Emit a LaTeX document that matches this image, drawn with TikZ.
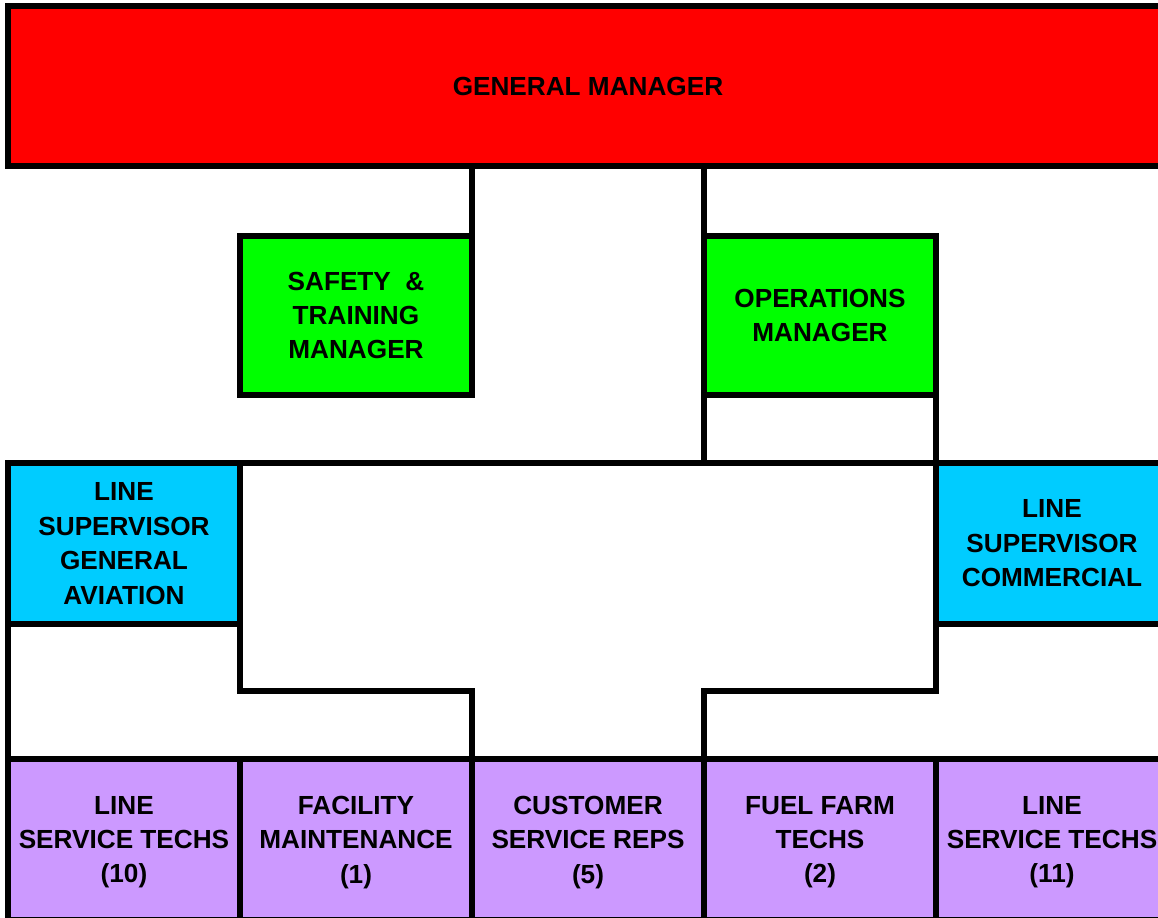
\documentclass[tikz,border=0pt]{standalone}
\usepackage{fontspec}
\setmainfont{Liberation Sans}
\definecolor{gmred}{HTML}{FF0000}
\definecolor{mgrgreen}{HTML}{00FF00}
\definecolor{supblue}{HTML}{00CCFF}
\definecolor{crewpurple}{HTML}{CC99FF}
\tikzset{
  orgbox/.style={draw=black, inner sep=0pt, outer sep=0pt, align=center,
    font=\fontsize{14.9}{19.6}\selectfont\bfseries, minimum width=4.64cm},
  mgrbox/.style={orgbox, fill=mgrgreen, minimum height=3.18cm},
  supbox/.style={orgbox, fill=supblue, minimum height=3.22cm},
  crewbox/.style={orgbox, fill=crewpurple, minimum height=3.22cm, text depth=-1.5pt}
}

\begin{document}
\begin{tikzpicture}[x=0.02cm, y=-0.02cm, line width=3.1pt]
      \useasboundingbox (0, 0) rectangle (1158, 918);
      \fill[white] (0, 0) rectangle (1158, 918);
      \clip (0, 0) rectangle (1158, 918);
      \node[orgbox, fill=gmred, minimum width=23.2cm, minimum height=3.2cm] (gm) at (588, 86) {GENERAL MANAGER};
      \node[mgrbox] (st) at (356, 315.5) {SAFETY~~\&\\TRAINING\\MANAGER};
      \node[mgrbox] (ops) at (820, 315.5) {OPERATIONS\\MANAGER};
      \node[supbox] (lsga) at (124, 543.5) {LINE\\SUPERVISOR\\GENERAL\\AVIATION};
      \node[supbox] (lsc) at (1052, 543.5) {LINE\\SUPERVISOR\\COMMERCIAL};
      \node[crewbox] (lst) at (124, 839.5) {LINE\\SERVICE TECHS\\(10)};
      \node[crewbox] (fac) at (356, 839.5) {FACILITY\\MAINTENANCE\\(1)};
      \node[crewbox] (csr) at (588, 839.5) {CUSTOMER\\SERVICE REPS\\(5)};
      \node[crewbox] (fft) at (820, 839.5) {FUEL FARM\\TECHS\\(2)};
      \node[crewbox] (lstc) at (1052, 839.5) {LINE\\SERVICE TECHS\\(11)};
      \draw (st.north east) -- (st.north east |- gm.south);
      \draw (ops.north west) -- (ops.north west |- gm.south);
      \draw (ops.south west) -- (ops.south west |- lsga.north);
      \draw (ops.south east) -- (ops.south east |- lsc.north);
      \draw (lsga.north east) -- (lsc.north west);
      \draw (lsga.south west) -- (lst.north west);
      \draw (lsga.south east) -- ++(0, 67) -| (fac.north east);
      \draw (lsc.south west) -- ++(0, 67) -| (csr.north east);
    \end{tikzpicture}
\end{document}
